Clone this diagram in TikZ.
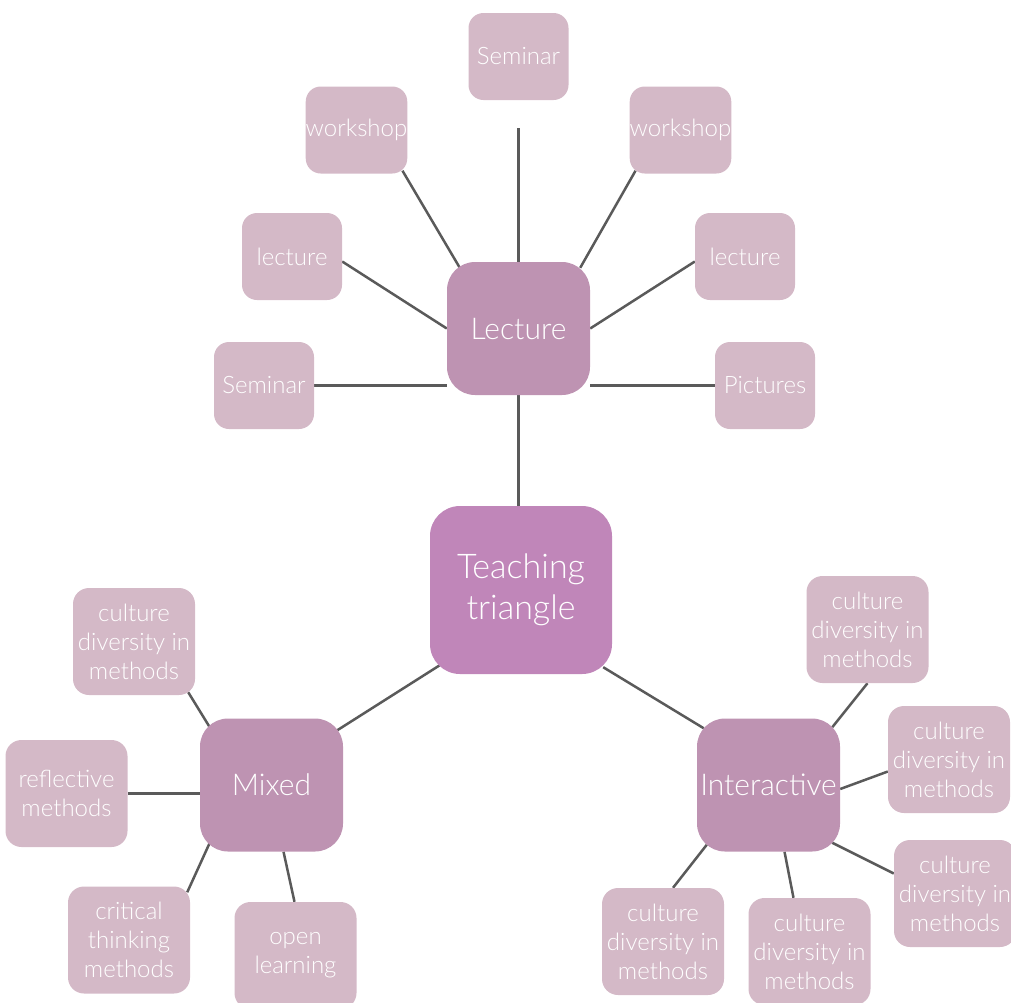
\documentclass[tikz,border=0pt]{standalone}
\usepackage{fontspec}
\setmainfont{Lato Light}
\usetikzlibrary{calc,backgrounds}
\definecolor{ttc}{RGB}{192,134,185}
\definecolor{mainc}{RGB}{190,147,178}
\definecolor{leafc}{RGB}{212,185,199}
\definecolor{edgec}{RGB}{90,90,90}
\begin{document}
\begin{tikzpicture}[x=1pt,y=-1pt,
  base/.style={rectangle, inner sep=0pt, text=white, align=center},
  center/.style={base, fill=ttc, rounded corners=30pt, minimum width=182pt, minimum height=168pt, font=\fontsize{34}{41}\selectfont},
  hub/.style={base, fill=mainc, rounded corners=28pt, minimum width=143pt, minimum height=133pt, font=\fontsize{30}{38}\selectfont},
  leafs/.style={base, fill=leafc, rounded corners=15pt, minimum width=100pt, minimum height=87pt, font=\fontsize{24}{29}\selectfont},
  leafl/.style={base, fill=leafc, rounded corners=16pt, minimum width=122pt, minimum height=107pt, font=\fontsize{24}{29}\selectfont},
  link/.style={draw=edgec, line width=2.5pt}]
\useasboundingbox (0,0) rectangle (1011,1002);
% main nodes
\node[center] (tt) at (521,590) {Teaching\\triangle};
\node[hub] (L) at (518.5,328.5) {Lecture};
\node[hub] (M) at (271.5,785) {Mixed};
\node[hub] (I) at (768.5,785) {Interactive};
% lecture leaves
\node[leafs] (s1) at (518.5,56.5) {Seminar};
\node[leafs] (w1) at (356.5,130) {workshop};
\node[leafs] (w2) at (680.5,130) {workshop};
\node[leafs] (l1) at (292,256.5) {lecture};
\node[leafs] (l2) at (745,256.5) {lecture};
\node[leafs] (sl) at (264,385.5) {Seminar};
\node[leafs] (pic) at (765,385.5) {Pictures};
% mixed leaves
\node[leafl] (mc) at (134,641.5) {culture\\diversity in\\methods};
\node[leafl] (refl) at (66.5,793.5) {reflective\\methods};
\node[leafl] (crit) at (129,940) {critical\\thinking\\methods};
\node[leafl] (open) at (295.5,955.5) {open\\learning};
% interactive leaves
\node[leafl] (ic1) at (867.5,629.5) {culture\\diversity in\\methods};
\node[leafl] (ic2) at (949,759.5) {culture\\diversity in\\methods};
\node[leafl] (ic3) at (955,893.5) {culture\\diversity in\\methods};
\node[leafl] (ib1) at (663,941.5) {culture\\diversity in\\methods};
\node[leafl] (ib2) at (809.5,951.5) {culture\\diversity in\\methods};
% connectors
\begin{scope}[on background layer]
\draw[link] (L.south) -- (L.south |- tt.north);
\draw[link] (L.north) -- ($(s1.south)+(0,28)$);
\draw[link] ($(L.north west)+(13,6)$) -- ($(w1.south east)+(-5,-3)$);
\draw[link] ($(L.north east)+(-10,6)$) -- ($(w2.south west)+(6,-3)$);
\draw[link] (L.west) -- ($(l1.east)+(0,5)$);
\draw[link] (L.east) -- ($(l2.west)+(0,5)$);
\draw[link] (sl.east) -- (sl.east -| L.west);
\draw[link] (pic.west) -- (pic.west -| L.east);
\draw[link] ($(tt.south west)+(10,-9)$) -- ($(M.north east)+(-6,12)$);
\draw[link] ($(tt.south east)+(-9,-7)$) -- ($(I.north west)+(7,10)$);
\draw[link] ($(M.north west)+(10,9)$) -- ($(mc.south east)+(-7,-3)$);
\draw[link] (refl.east) -- (refl.east -| M.west);
\draw[link] ($(M.south west)+(10,-9)$) -- ($(crit.north east)+(-3,6)$);
\draw[link] ($(M.south)+(12,0)$) -- ($(open.north)+(-1,0)$);
\draw[link] ($(I.north east)+(-8,9)$) -- (ic1.south);
\draw[link] ($(I.east)+(0,4)$) -- ($(ic2.west)+(0,12)$);
\draw[link] ($(I.south east)+(-8,-9)$) -- ($(ic3.west)+(0,-20)$);
\draw[link] ($(I.south west)+(10,-7)$) -- ($(ib1.north)+(10,0)$);
\draw[link] ($(I.south)+(16,0)$) -- ($(ib2.north)+(-16,0)$);
\end{scope}
\end{tikzpicture}
\end{document}
